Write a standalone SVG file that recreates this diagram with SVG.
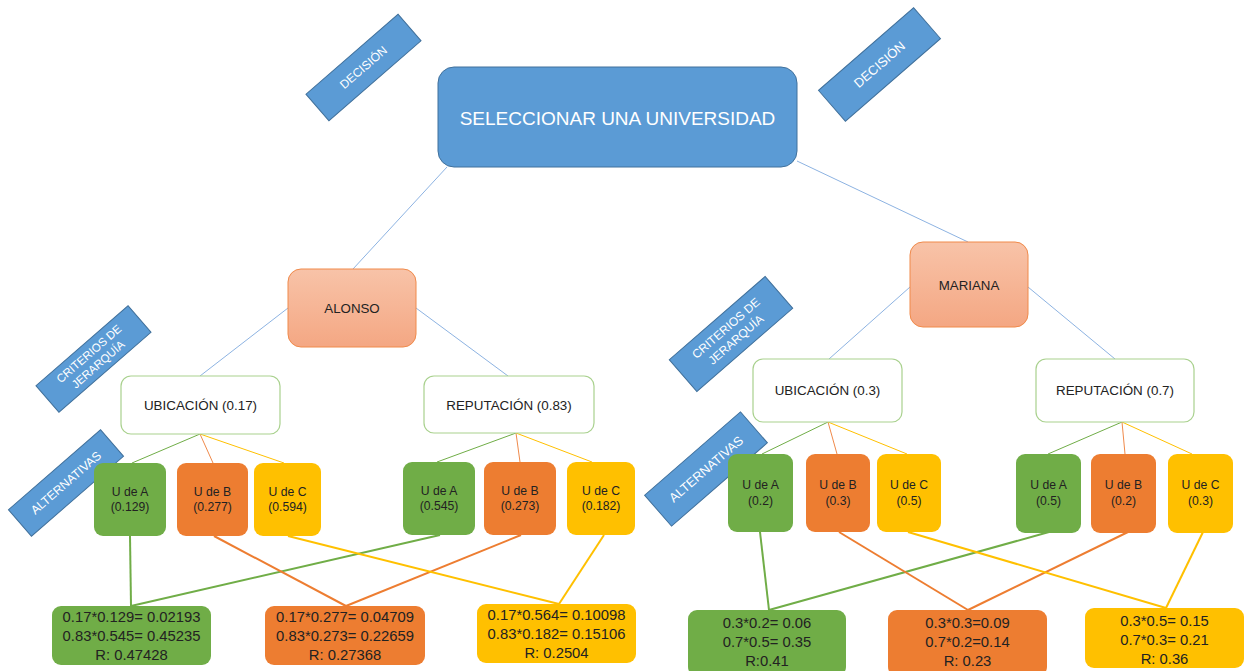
<svg xmlns="http://www.w3.org/2000/svg" width="1246" height="671" viewBox="0 0 1246 671">
<style>
text{font-family:"Liberation Sans",Arial,sans-serif;text-anchor:middle;dominant-baseline:central}
.lbl rect{fill:#5b9bd5;stroke:#41719c;stroke-width:1}
.lbl text{fill:#fff}
.blue{stroke:#8db3e2;stroke-width:1;fill:none}
.g1{stroke:#70ad47;stroke-width:1;fill:none}
.o1{stroke:#f08a4b;stroke-width:1;fill:none}
.y1{stroke:#ffc000;stroke-width:1;fill:none}
.g2{stroke:#70ad47;stroke-width:2;fill:none}
.o2{stroke:#ed7d31;stroke-width:2;fill:none}
.y2{stroke:#ffc000;stroke-width:2;fill:none}
.crit rect{fill:#fff;stroke:#a9d18e;stroke-width:1.2}
.crit text{fill:#222;font-size:13.4px}
.per rect{fill:url(#peach);stroke:#f08a4b;stroke-width:1}
.per text{fill:#222;font-size:13.3px}
.alt text{fill:#222;font-size:12.2px}
.res text{fill:#222;font-size:14.8px}
.ga{fill:#70ad47}
.oa{fill:#ed7d31}
.ya{fill:#ffc000}
</style>
<defs>
<linearGradient id="peach" x1="0" y1="0" x2="0" y2="1">
<stop offset="0" stop-color="#f8c3a8"/>
<stop offset="1" stop-color="#f4a783"/>
</linearGradient>
</defs>
<rect width="1246" height="671" fill="#fff"/>
<g id="connectors">
<line class="blue" x1="447" y1="167" x2="353" y2="269"/>
<line class="blue" x1="797" y1="161" x2="968" y2="242"/>
<line class="blue" x1="288" y1="308" x2="200" y2="376"/>
<line class="blue" x1="416" y1="308" x2="508" y2="376"/>
<line class="blue" x1="910" y1="287" x2="829" y2="359"/>
<line class="blue" x1="1028" y1="287" x2="1115" y2="359"/>
<line class="g1" x1="200" y1="434" x2="132" y2="463"/>
<line class="o1" x1="200" y1="434" x2="213" y2="463"/>
<line class="y1" x1="200" y1="434" x2="284" y2="463"/>
<line class="g1" x1="516" y1="433" x2="437" y2="462"/>
<line class="o1" x1="516" y1="433" x2="520" y2="462"/>
<line class="y1" x1="516" y1="433" x2="592" y2="462"/>
<line class="g1" x1="828" y1="422" x2="762" y2="454"/>
<line class="o1" x1="828" y1="422" x2="837" y2="454"/>
<line class="y1" x1="828" y1="422" x2="907" y2="454"/>
<line class="g1" x1="1122" y1="422" x2="1048" y2="454"/>
<line class="o1" x1="1122" y1="422" x2="1125" y2="454"/>
<line class="y1" x1="1122" y1="422" x2="1192" y2="454"/>
<line class="g2" x1="130" y1="536" x2="131" y2="606"/>
<line class="g2" x1="440" y1="535" x2="131" y2="606"/>
<line class="o2" x1="214" y1="536" x2="346" y2="606"/>
<line class="o2" x1="521" y1="535" x2="346" y2="606"/>
<line class="y2" x1="288" y1="536" x2="559" y2="604"/>
<line class="y2" x1="604" y1="535" x2="559" y2="604"/>
<line class="g2" x1="760" y1="532" x2="769" y2="610"/>
<line class="g2" x1="1049" y1="532" x2="769" y2="610"/>
<line class="o2" x1="839" y1="532" x2="968" y2="610"/>
<line class="o2" x1="1128" y1="532" x2="968" y2="610"/>
<line class="y2" x1="908" y1="532" x2="1166" y2="608"/>
<line class="y2" x1="1203" y1="532" x2="1166" y2="608"/>
</g>
<g id="decision-left" class="lbl" transform="translate(363.5,67.5) rotate(-41)">
<rect x="-61" y="-17.5" width="122" height="35"/>
<text x="0" y="0" font-size="12">DECISIÓN</text>
</g>
<g id="decision-right" class="lbl" transform="translate(879.5,64.5) rotate(-41)">
<rect x="-63" y="-20.5" width="126" height="41"/>
<text x="0" y="0" font-size="13">DECISIÓN</text>
</g>
<g id="criterios-left" class="lbl" transform="translate(93.5,359) rotate(-41)">
<rect x="-61" y="-17.5" width="122" height="35"/>
<text x="0" y="-7" font-size="11.5">CRITERIOS DE</text>
<text x="0" y="7" font-size="11.5">JERARQUÍA</text>
</g>
<g id="criterios-right" class="lbl" transform="translate(731,334) rotate(-41)">
<rect x="-63.5" y="-21" width="127" height="42"/>
<text x="0" y="-7.5" font-size="12">CRITERIOS DE</text>
<text x="0" y="7.5" font-size="12">JERARQUÍA</text>
</g>
<g id="alternativas-left" class="lbl" transform="translate(66,483) rotate(-41)">
<rect x="-61" y="-17.5" width="122" height="35"/>
<text x="0" y="0" font-size="12.2">ALTERNATIVAS</text>
</g>
<g id="alternativas-right" class="lbl" transform="translate(706,469) rotate(-41)">
<rect x="-63.5" y="-20.5" width="127" height="41"/>
<text x="0" y="0" font-size="12.8">ALTERNATIVAS</text>
</g>
<g id="goal">
<rect x="438" y="67" width="359" height="100" rx="16" fill="#5b9bd5" stroke="#41719c" stroke-width="1"/>
<text x="617.5" y="118" font-size="19" fill="#fff">SELECCIONAR UNA UNIVERSIDAD</text>
</g>
<g id="alonso" class="per">
<rect x="288" y="269" width="128" height="78" rx="13"/>
<text x="352" y="308">ALONSO</text>
</g>
<g id="mariana" class="per">
<rect x="910" y="242" width="118" height="85" rx="13"/>
<text x="969" y="285">MARIANA</text>
</g>
<g id="ubic-alonso" class="crit">
<rect x="121" y="376" width="159" height="58" rx="10"/>
<text x="200.5" y="405">UBICACIÓN (0.17)</text>
</g>
<g id="rep-alonso" class="crit">
<rect x="424" y="376" width="170" height="57" rx="10"/>
<text x="509" y="405">REPUTACIÓN (0.83)</text>
</g>
<g id="ubic-mariana" class="crit">
<rect x="753" y="359" width="149" height="63" rx="10"/>
<text x="827.5" y="390">UBICACIÓN (0.3)</text>
</g>
<g id="rep-mariana" class="crit">
<rect x="1036" y="359" width="158" height="63" rx="10"/>
<text x="1115" y="390">REPUTACIÓN (0.7)</text>
</g>
<g id="alt-a1-alonso" class="alt">
<rect class="ga" x="94" y="463" width="72" height="73" rx="9"/>
<text x="130" y="491.5">U de A</text><text x="130" y="507">(0.129)</text>
</g>
<g id="alt-b1-alonso" class="alt">
<rect class="oa" x="177" y="463" width="71" height="73" rx="9"/>
<text x="212.5" y="491.5">U de B</text><text x="212.5" y="507">(0.277)</text>
</g>
<g id="alt-c1-alonso" class="alt">
<rect class="ya" x="254" y="463" width="67" height="73" rx="9"/>
<text x="287.5" y="491.5">U de C</text><text x="287.5" y="507">(0.594)</text>
</g>
<g id="alt-a2-alonso" class="alt">
<rect class="ga" x="403" y="462" width="72" height="73" rx="9"/>
<text x="439" y="490.5">U de A</text><text x="439" y="506">(0.545)</text>
</g>
<g id="alt-b2-alonso" class="alt">
<rect class="oa" x="484" y="462" width="72" height="73" rx="9"/>
<text x="520" y="490.5">U de B</text><text x="520" y="506">(0.273)</text>
</g>
<g id="alt-c2-alonso" class="alt">
<rect class="ya" x="567" y="462" width="68" height="73" rx="9"/>
<text x="601" y="490.5">U de C</text><text x="601" y="506">(0.182)</text>
</g>
<g id="alt-a1-mariana" class="alt">
<rect class="ga" x="728" y="454" width="65" height="78" rx="9"/>
<text x="760.5" y="485">U de A</text><text x="760.5" y="501">(0.2)</text>
</g>
<g id="alt-b1-mariana" class="alt">
<rect class="oa" x="806" y="454" width="64" height="78" rx="9"/>
<text x="838" y="485">U de B</text><text x="838" y="501">(0.3)</text>
</g>
<g id="alt-c1-mariana" class="alt">
<rect class="ya" x="877" y="454" width="64" height="78" rx="9"/>
<text x="909" y="485">U de C</text><text x="909" y="501">(0.5)</text>
</g>
<g id="alt-a2-mariana" class="alt">
<rect class="ga" x="1016" y="454" width="65" height="79" rx="9"/>
<text x="1048.5" y="485">U de A</text><text x="1048.5" y="501">(0.5)</text>
</g>
<g id="alt-b2-mariana" class="alt">
<rect class="oa" x="1091" y="454" width="65" height="79" rx="9"/>
<text x="1123.5" y="485">U de B</text><text x="1123.5" y="501">(0.2)</text>
</g>
<g id="alt-c2-mariana" class="alt">
<rect class="ya" x="1168" y="454" width="65" height="79" rx="9"/>
<text x="1200.5" y="485">U de C</text><text x="1200.5" y="501">(0.3)</text>
</g>
<g id="res-a-alonso" class="res">
<rect class="ga" x="52" y="606" width="159" height="59" rx="9"/>
<text x="131.5" y="617">0.17*0.129= 0.02193</text>
<text x="131.5" y="636">0.83*0.545= 0.45235</text>
<text x="131.5" y="655">R: 0.47428</text>
</g>
<g id="res-b-alonso" class="res">
<rect class="oa" x="265" y="606" width="160" height="59" rx="9"/>
<text x="345" y="617">0.17*0.277= 0.04709</text>
<text x="345" y="636">0.83*0.273= 0.22659</text>
<text x="345" y="655">R: 0.27368</text>
</g>
<g id="res-c-alonso" class="res">
<rect class="ya" x="477" y="604" width="159" height="59" rx="9"/>
<text x="556.5" y="615">0.17*0.564= 0.10098</text>
<text x="556.5" y="634">0.83*0.182= 0.15106</text>
<text x="556.5" y="653">R: 0.2504</text>
</g>
<g id="res-a-mariana" class="res">
<rect class="ga" x="688" y="610" width="158" height="66" rx="9"/>
<text x="767" y="623">0.3*0.2= 0.06</text>
<text x="767" y="642">0.7*0.5= 0.35</text>
<text x="767" y="661">R:0.41</text>
</g>
<g id="res-b-mariana" class="res">
<rect class="oa" x="888" y="610" width="159" height="66" rx="9"/>
<text x="967.5" y="623">0.3*0.3=0.09</text>
<text x="967.5" y="642">0.7*0.2=0.14</text>
<text x="967.5" y="661">R: 0.23</text>
</g>
<g id="res-c-mariana" class="res">
<rect class="ya" x="1085" y="608" width="159" height="60" rx="9"/>
<text x="1164.5" y="621">0.3*0.5= 0.15</text>
<text x="1164.5" y="640">0.7*0.3= 0.21</text>
<text x="1164.5" y="659">R: 0.36</text>
</g>
</svg>
